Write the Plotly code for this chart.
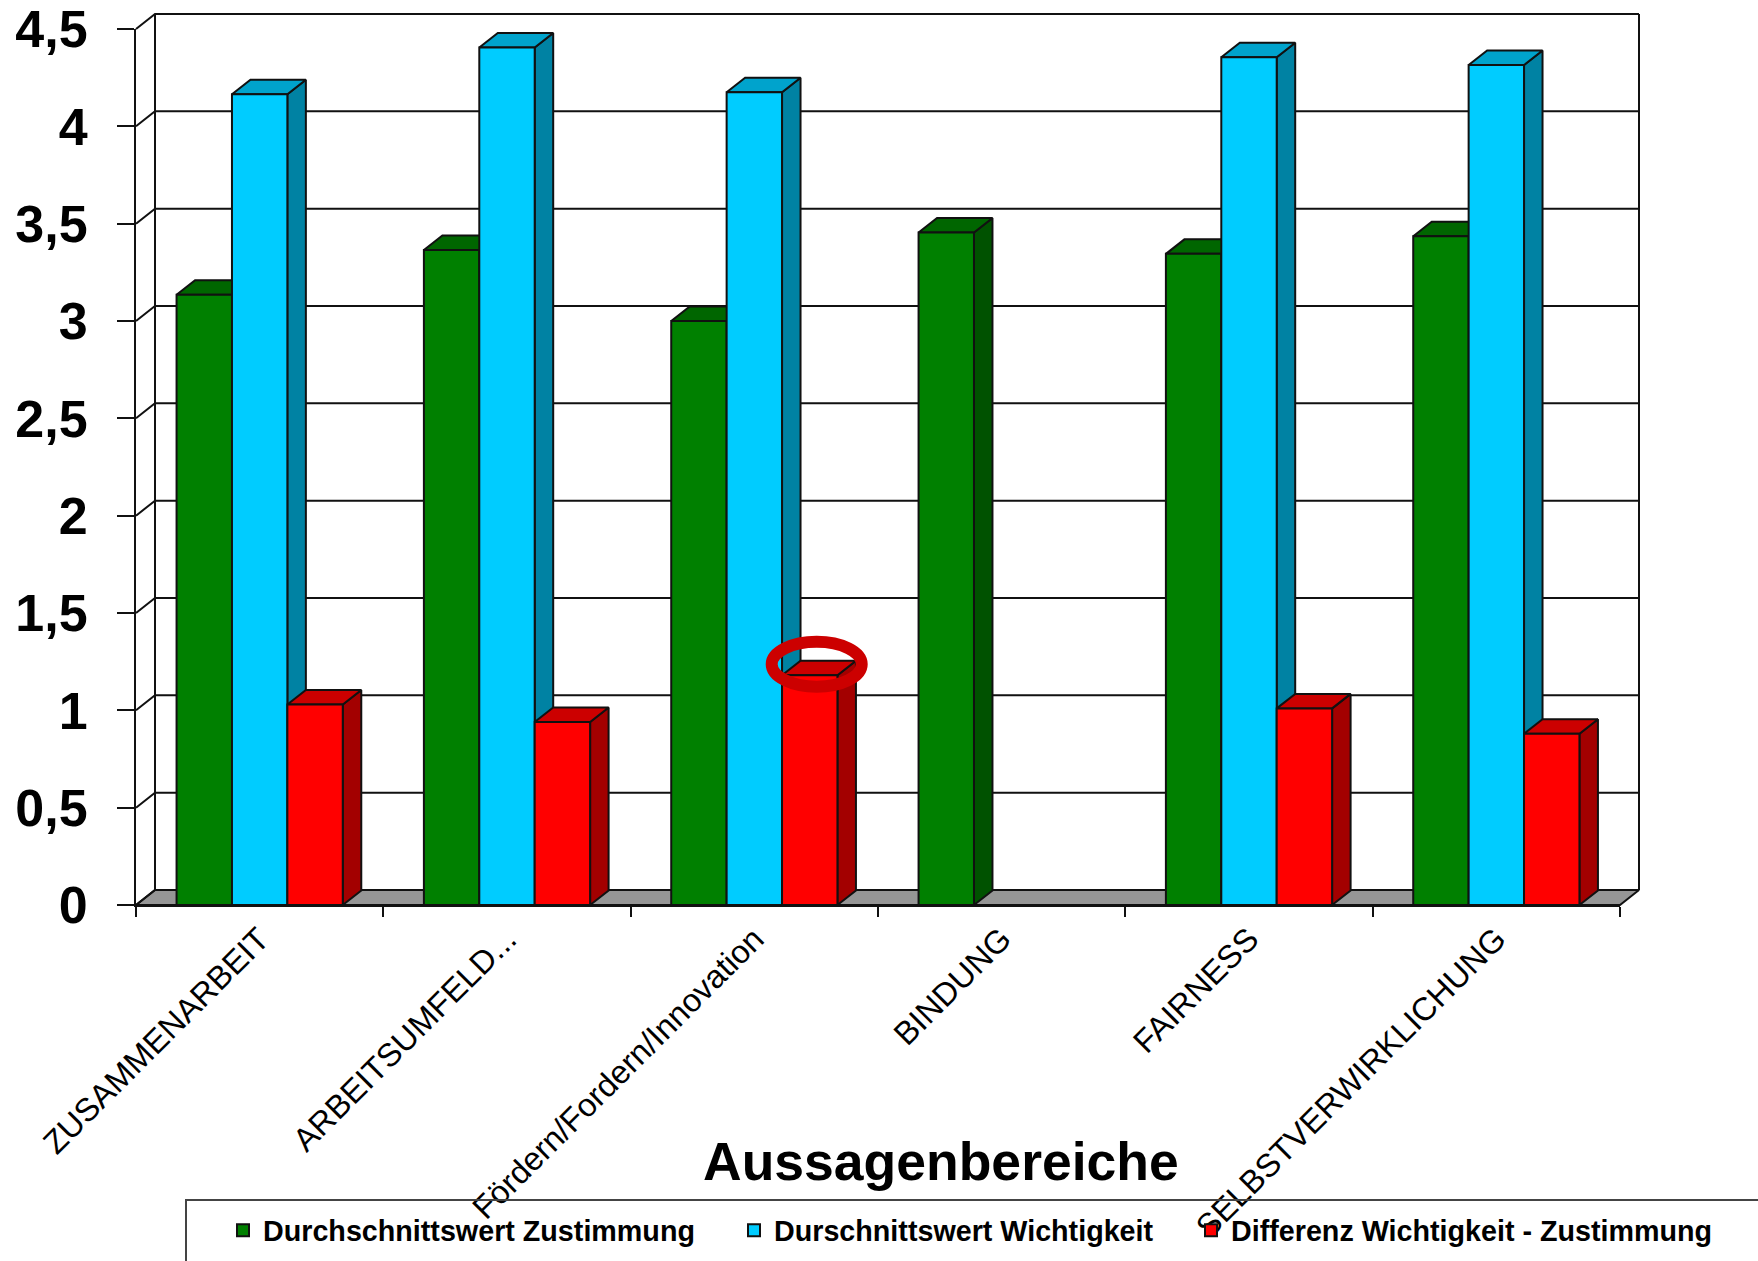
import plotly.graph_objects as go

# ---- data ----
categories = ["ZUSAMMENARBEIT", "ARBEITSUMFELD...", "Fördern/Fordern/Innovation",
              "BINDUNG", "FAIRNESS", "SELBSTVERWIRKLICHUNG"]
zustimmung = [3.135, 3.365, 3.00, 3.455, 3.345, 3.435]
wichtigkeit = [4.165, 4.405, 4.175, None, 4.355, 4.315]
differenz = [1.03, 0.94, 1.18, None, 1.01, 0.88]
series_names = ["Durchschnittswert Zustimmung", "Durschnittswert Wichtigkeit",
                "Differenz Wichtigkeit - Zustimmung"]
y_ticks = [0, 0.5, 1, 1.5, 2, 2.5, 3, 3.5, 4, 4.5]
y_tick_labels = ["0", "0,5", "1", "1,5", "2", "2,5", "3", "3,5", "4", "4,5"]

W, H = 1758, 1261
X0, X1 = 136, 1620      # front x-axis pixels
Y0, Y1 = 905, 29        # front y-axis pixels (value 0, value 4.5)
ux = (X1 - X0) / len(categories)
uy = (Y0 - Y1) / 4.5
DX, DY = 19 / ux, 15 / uy          # wall depth in data units
BDX, BDY = 18.5 / ux, 14.5 / uy    # bar depth in data units
BARGAP = 0.328
BARW = (1 - BARGAP) / 3
LINE = "#111111"

fronts = ["#008000", "#00CCFF", "#FF0000"]
tops = ["#006600", "#00A3CC", "#CC0000"]
sides = ["#005200", "#0082A3", "#A30000"]
all_values = [zustimmung, wichtigkeit, differenz]

fig = go.Figure()
xl, xr = -0.5, len(categories) - 0.5

# the back subplot is larger than the front one so that the depth is not clipped
BX0, BX1, BY0, BY1 = 126, 1660, 915, 4

# floor
fig.add_trace(go.Scatter(x=[xl, xl + DX, xr + DX, xr, xl], y=[0, DY, DY, 0, 0],
                         mode="lines", fill="toself", fillcolor="#969696",
                         line=dict(color=LINE, width=2),
                         showlegend=False, hoverinfo="skip"))
# grid lines on back wall and side wall
gx, gy = [], []
for v in y_ticks:
    gx += [xl, xl + DX, xr + DX, None]
    gy += [v, v + DY, v + DY, None]
gx += [xl + DX, xl + DX, None, xr + DX, xr + DX, None]
gy += [DY, y_ticks[-1] + DY, None, DY, y_ticks[-1] + DY, None]
fig.add_trace(go.Scatter(x=gx, y=gy, mode="lines", line=dict(color=LINE, width=2),
                         showlegend=False, hoverinfo="skip"))

# 3-D depth faces, computed from the values
for s, vals in enumerate(all_values):
    tx, ty, sx, sy = [], [], [], []
    for c, v in enumerate(vals):
        if v is None:
            continue
        a = c - (1 - BARGAP) / 2 + s * BARW
        b = a + BARW
        tx += [a, a + BDX, b + BDX, b, a, None]
        ty += [v, v + BDY, v + BDY, v, v, None]
        sx += [b, b + BDX, b + BDX, b, b, None]
        sy += [0, BDY, v + BDY, v, 0, None]
    for px, py, col in ((sx, sy, sides[s]), (tx, ty, tops[s])):
        fig.add_trace(go.Scatter(x=px, y=py, mode="lines", fill="toself", fillcolor=col,
                                 line=dict(color=LINE, width=2),
                                 showlegend=False, hoverinfo="skip"))

# front faces
legend_ids = ["legend", "legend2", "legend3"]
for s, vals in enumerate(all_values):
    fig.add_trace(go.Bar(x=categories, y=vals, name=series_names[s], xaxis="x2", yaxis="y2",
                         marker=dict(color=fronts[s], line=dict(color=LINE, width=2)),
                         legend=legend_ids[s], hoverinfo="skip"))

FAM = "Liberation Sans, Arial, sans-serif"
leg_font = dict(family=FAM, size=28.7, color="#000000", weight="bold")
def leg(px):
    return dict(x=px / W, y=1 - 1205 / H, xanchor="left", yanchor="top",
                orientation="h", font=leg_font, bgcolor="rgba(0,0,0,0)",
                borderwidth=0, itemclick=False, itemdoubleclick=False)

fig.update_layout(
    width=W, height=H, autosize=False, template=None,
    margin=dict(l=0, r=0, t=0, b=0, autoexpand=False),
    paper_bgcolor="white", plot_bgcolor="rgba(0,0,0,0)",
    separators=",.", barmode="group", bargap=BARGAP, bargroupgap=0,
    font=dict(family=FAM, color="black"),
    xaxis=dict(domain=[BX0 / W, BX1 / W], range=[xl + (BX0 - X0) / ux, xl + (BX1 - X0) / ux],
               type="linear", visible=False, anchor="y"),
    yaxis=dict(domain=[1 - BY0 / H, 1 - BY1 / H], range=[(Y0 - BY0) / uy, (Y0 - BY1) / uy],
               visible=False, anchor="x"),
    xaxis2=dict(domain=[X0 / W, X1 / W], range=[xl, xr], type="category",
                categoryorder="array", categoryarray=categories, anchor="y2", tickmode="array",
                tickvals=categories, ticktext=categories, tickson="boundaries", ticks="outside", ticklen=10,
                tickwidth=2, tickcolor=LINE, tickangle=-45, showgrid=False, zeroline=False,
                tickfont=dict(size=32.5, color="#000000"), showline=True, linecolor=LINE, linewidth=2),
    yaxis2=dict(domain=[1 - Y0 / H, 1 - Y1 / H], range=[0, 4.5], anchor="x2", showgrid=False, zeroline=False,
                tickmode="array", tickvals=y_ticks, ticktext=y_tick_labels,
                tickfont=dict(size=52, family=FAM, weight="bold", color="#000000"),
                ticks="outside", ticklen=17, tickwidth=2, tickcolor=LINE, ticklabelstandoff=19,
                showline=True, linecolor=LINE, linewidth=2),
    legend=leg(223), legend2=leg(734), legend3=leg(1191),
    shapes=[
        dict(type="circle", xref="x2 domain", yref="y2",
             x0=(816.7 - 45 - X0) / (X1 - X0), x1=(816.7 + 45 - X0) / (X1 - X0),
             y0=(Y0 - 664.3 - 22.5) / uy, y1=(Y0 - 664.3 + 22.5) / uy,
             line=dict(color="#CC0000", width=12), layer="above"),
        dict(type="rect", xref="paper", yref="paper", x0=186 / W, x1=1.01, y0=-0.02, y1=1 - 1200 / H,
             line=dict(color="#444444", width=2), fillcolor="rgba(0,0,0,0)", layer="above"),
    ],
    annotations=[dict(text="<b>Aussagenbereiche</b>", xref="paper", yref="paper",
                      x=941 / W, y=1 - 1161 / H, xanchor="center", yanchor="middle",
                      showarrow=False, font=dict(size=53.5, color="#000000"))],
)

fig.write_html("out.html", config={"displayModeBar": False},
               post_script="document.body.style.margin='0';")
